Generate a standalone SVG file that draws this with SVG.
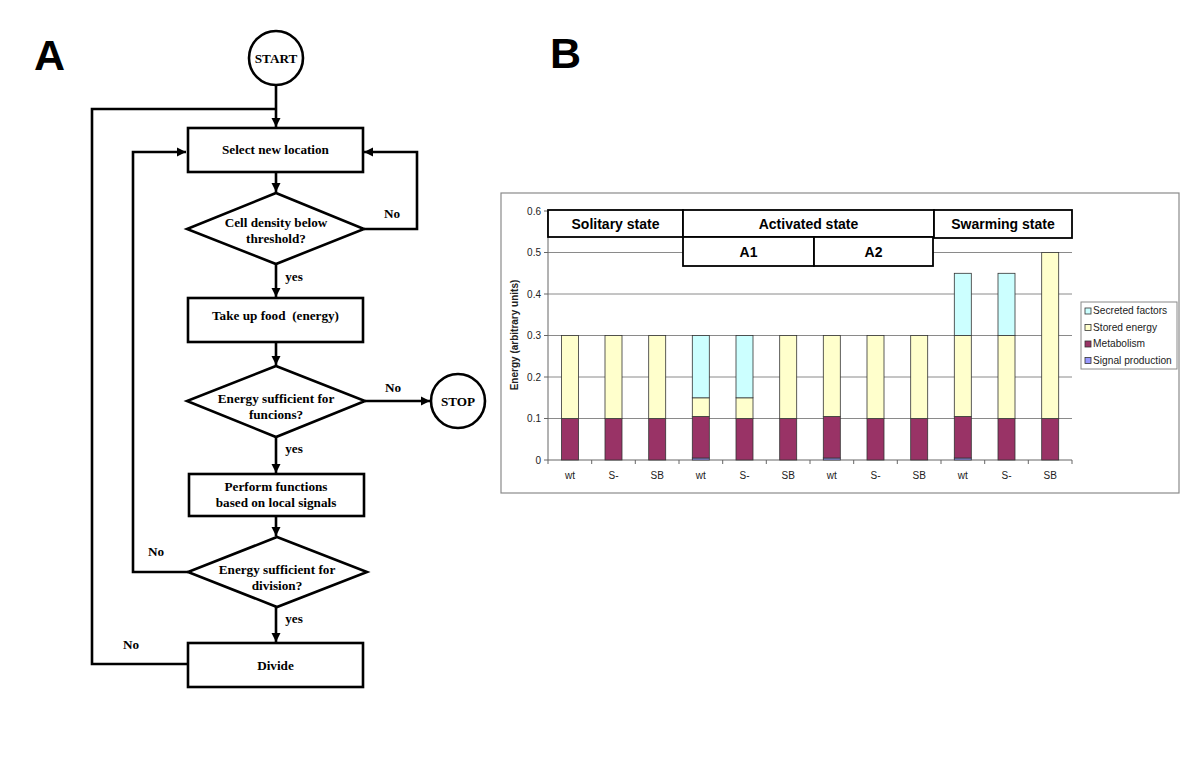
<svg xmlns="http://www.w3.org/2000/svg" width="1200" height="764" viewBox="0 0 1200 764">
<style>
.fc{fill:#fff;stroke:#000;stroke-width:2.6}
.ft{font-family:"Liberation Serif",serif;font-weight:bold;font-size:13.2px;fill:#000;text-anchor:middle}
.con{fill:none;stroke:#000;stroke-width:2.6}
.big{font-family:"Liberation Sans",Arial,sans-serif;font-weight:bold;font-size:43px;fill:#000}
.ax{font-family:"Liberation Sans",Arial,sans-serif;font-size:10px;fill:#222}
.hd{fill:#fff;stroke:#000;stroke-width:1.8}
.ht{font-family:"Liberation Sans",Arial,sans-serif;font-weight:bold;font-size:14px;fill:#000;text-anchor:middle}
.grid{stroke:#8a8a8a;stroke-width:1}
.bar{stroke:#333;stroke-width:0.8}
.met{fill:#993366}.sto{fill:#FFFFCC}.sec{fill:#CCFFFF}.sig{fill:#9999FF}
.lg{font-family:"Liberation Sans",Arial,sans-serif;font-size:10.2px;fill:#222}
</style>
<defs>
<marker id="ah" viewBox="0 0 10 10" refX="10" refY="5" markerWidth="3.6" markerHeight="3.6" orient="auto" markerUnits="strokeWidth">
<path d="M0,0 L10,5 L0,10 z" fill="#000"/>
</marker>
</defs>
<rect width="1200" height="764" fill="#fff"/>
<text class="big" x="34" y="70">A</text>
<text class="big" x="550" y="68">B</text>

<g id="connectors">
<path class="con" d="M276,86 V127" marker-end="url(#ah)"/>
<path class="con" d="M188,664 H92 V109 H276"/>
<path class="con" d="M188,572 H133 V152 H186" marker-end="url(#ah)"/>
<path class="con" d="M364,229 H417 V152 H364" marker-end="url(#ah)"/>
<path class="con" d="M276,172 V192" marker-end="url(#ah)"/>
<path class="con" d="M276,263 V297" marker-end="url(#ah)"/>
<path class="con" d="M276,342 V365" marker-end="url(#ah)"/>
<path class="con" d="M365,401 H430" marker-end="url(#ah)"/>
<path class="con" d="M276,437 V473" marker-end="url(#ah)"/>
<path class="con" d="M276,516 V536" marker-end="url(#ah)"/>
<path class="con" d="M276,607 V642" marker-end="url(#ah)"/>
<text class="ft" x="392" y="218">No</text>
<text class="ft" x="294" y="281">yes</text>
<text class="ft" x="393" y="392">No</text>
<text class="ft" x="294" y="453">yes</text>
<text class="ft" x="156" y="556">No</text>
<text class="ft" x="294" y="623">yes</text>
<text class="ft" x="131" y="649">No</text>
</g>

<g id="start"><circle class="fc" cx="276" cy="58" r="27"/><text class="ft" x="276" y="63">START</text></g>
<g id="select"><rect class="fc" x="188" y="128" width="175" height="44"/><text class="ft" x="275.5" y="154">Select new location</text></g>
<g id="density"><polygon class="fc" points="276,193 364,229 276,264 187,229"/><text class="ft" x="276" y="227">Cell density below</text><text class="ft" x="276" y="243">threshold?</text></g>
<g id="food"><rect class="fc" x="188" y="298" width="175" height="44"/><text class="ft" x="275.5" y="320" xml:space="preserve">Take up food  (energy)</text></g>
<g id="energy1"><polygon class="fc" points="276,366 365,401 276,437 187,401"/><text class="ft" x="276" y="403">Energy sufficient for</text><text class="ft" x="276" y="419">funcions?</text></g>
<g id="stop"><circle class="fc" cx="458" cy="401" r="27"/><text class="ft" x="458" y="406">STOP</text></g>
<g id="perform"><rect class="fc" x="189" y="474" width="175" height="42"/><text class="ft" x="276" y="491">Perform functions</text><text class="ft" x="276" y="507">based on local signals</text></g>
<g id="energy2"><polygon class="fc" points="277,537 367,572 277,607 188,572"/><text class="ft" x="277" y="574">Energy sufficient for</text><text class="ft" x="277" y="590">division?</text></g>
<g id="divide"><rect class="fc" x="188" y="643" width="175" height="44"/><text class="ft" x="275.5" y="670">Divide</text></g>

<g id="chart">
<rect x="501" y="193" width="678" height="300" fill="#fff" stroke="#8a8a8a" stroke-width="1.2"/>
<g>
<line class="grid" x1="548" y1="211" x2="1072" y2="211"/>
<line class="grid" x1="548" y1="252.5" x2="1072" y2="252.5"/>
<line class="grid" x1="548" y1="294" x2="1072" y2="294"/>
<line class="grid" x1="548" y1="335.5" x2="1072" y2="335.5"/>
<line class="grid" x1="548" y1="377" x2="1072" y2="377"/>
<line class="grid" x1="548" y1="418.5" x2="1072" y2="418.5"/>
</g>
<line x1="548" y1="211" x2="548" y2="460" stroke="#666"/>
<line x1="548" y1="460" x2="1072" y2="460" stroke="#666"/>
<g stroke="#666">
<line x1="544" y1="211" x2="548" y2="211"/><line x1="544" y1="252.5" x2="548" y2="252.5"/><line x1="544" y1="294" x2="548" y2="294"/><line x1="544" y1="335.5" x2="548" y2="335.5"/><line x1="544" y1="377" x2="548" y2="377"/><line x1="544" y1="418.5" x2="548" y2="418.5"/><line x1="544" y1="460" x2="548" y2="460"/>
<line x1="548" y1="460" x2="548" y2="464"/><line x1="591.7" y1="460" x2="591.7" y2="464"/><line x1="635.3" y1="460" x2="635.3" y2="464"/><line x1="679" y1="460" x2="679" y2="464"/><line x1="722.7" y1="460" x2="722.7" y2="464"/><line x1="766.3" y1="460" x2="766.3" y2="464"/><line x1="810" y1="460" x2="810" y2="464"/><line x1="853.7" y1="460" x2="853.7" y2="464"/><line x1="897.3" y1="460" x2="897.3" y2="464"/><line x1="941" y1="460" x2="941" y2="464"/><line x1="984.7" y1="460" x2="984.7" y2="464"/><line x1="1028.3" y1="460" x2="1028.3" y2="464"/><line x1="1072" y1="460" x2="1072" y2="464"/>
</g>
<g class="ax" text-anchor="end">
<text x="541" y="214.5">0.6</text><text x="541" y="256">0.5</text><text x="541" y="297.5">0.4</text><text x="541" y="339">0.3</text><text x="541" y="380.5">0.2</text><text x="541" y="422">0.1</text><text x="541" y="463.5">0</text>
</g>
<text class="ax" font-weight="bold" text-anchor="middle" transform="translate(518,335) rotate(-90)">Energy (arbitrary units)</text>
<g class="ax" text-anchor="middle">
<text x="570" y="479">wt</text><text x="613.5" y="479">S-</text><text x="657.2" y="479">SB</text>
<text x="700.8" y="479">wt</text><text x="744.5" y="479">S-</text><text x="788.2" y="479">SB</text>
<text x="831.8" y="479">wt</text><text x="875.5" y="479">S-</text><text x="919.2" y="479">SB</text>
<text x="962.8" y="479">wt</text><text x="1006.5" y="479">S-</text><text x="1050.2" y="479">SB</text>
</g>
<g id="bars">
<rect class="bar met" x="561.5" y="418.5" width="17" height="41.5"/><rect class="bar sto" x="561.5" y="335.5" width="17" height="83"/>
<rect class="bar met" x="605" y="418.5" width="17" height="41.5"/><rect class="bar sto" x="605" y="335.5" width="17" height="83"/>
<rect class="bar met" x="648.7" y="418.5" width="17" height="41.5"/><rect class="bar sto" x="648.7" y="335.5" width="17" height="83"/>
<rect class="bar sig" x="692.3" y="458" width="17" height="2"/><rect class="bar met" x="692.3" y="416.5" width="17" height="41.5"/><rect class="bar sto" x="692.3" y="397.8" width="17" height="18.7"/><rect class="bar sec" x="692.3" y="335.5" width="17" height="62.3"/>
<rect class="bar met" x="736" y="418.5" width="17" height="41.5"/><rect class="bar sto" x="736" y="397.8" width="17" height="20.7"/><rect class="bar sec" x="736" y="335.5" width="17" height="62.3"/>
<rect class="bar met" x="779.7" y="418.5" width="17" height="41.5"/><rect class="bar sto" x="779.7" y="335.5" width="17" height="83"/>
<rect class="bar sig" x="823.3" y="458" width="17" height="2"/><rect class="bar met" x="823.3" y="416.5" width="17" height="41.5"/><rect class="bar sto" x="823.3" y="335.5" width="17" height="81"/>
<rect class="bar met" x="867" y="418.5" width="17" height="41.5"/><rect class="bar sto" x="867" y="335.5" width="17" height="83"/>
<rect class="bar met" x="910.7" y="418.5" width="17" height="41.5"/><rect class="bar sto" x="910.7" y="335.5" width="17" height="83"/>
<rect class="bar sig" x="954.3" y="458" width="17" height="2"/><rect class="bar met" x="954.3" y="416.5" width="17" height="41.5"/><rect class="bar sto" x="954.3" y="335.5" width="17" height="81"/><rect class="bar sec" x="954.3" y="273.3" width="17" height="62.2"/>
<rect class="bar met" x="998" y="418.5" width="17" height="41.5"/><rect class="bar sto" x="998" y="335.5" width="17" height="83"/><rect class="bar sec" x="998" y="273.3" width="17" height="62.2"/>
<rect class="bar met" x="1041.7" y="418.5" width="17" height="41.5"/><rect class="bar sto" x="1041.7" y="252.5" width="17" height="166"/>
</g>
<g id="headers">
<rect class="hd" x="548" y="210" width="135" height="27"/><text class="ht" x="615.5" y="229">Solitary state</text>
<rect class="hd" x="683" y="210" width="251" height="27"/><text class="ht" x="808.5" y="229">Activated state</text>
<rect class="hd" x="934" y="210" width="138" height="28"/><text class="ht" x="1003" y="229">Swarming state</text>
<rect class="hd" x="683" y="237" width="131" height="29"/><text class="ht" x="748.5" y="257">A1</text>
<rect class="hd" x="814" y="237" width="119" height="29"/><text class="ht" x="873.5" y="257">A2</text>
</g>
<g id="legend">
<rect x="1081" y="302" width="96" height="67" fill="#fff" stroke="#8a8a8a"/>
<rect x="1085" y="308" width="6" height="6" class="bar sec"/><text class="lg" x="1093" y="314">Secreted factors</text>
<rect x="1085" y="324.5" width="6" height="6" class="bar sto"/><text class="lg" x="1093" y="330.5">Stored energy</text>
<rect x="1085" y="341" width="6" height="6" class="bar met"/><text class="lg" x="1093" y="347">Metabolism</text>
<rect x="1085" y="357.5" width="6" height="6" class="bar sig"/><text class="lg" x="1093" y="363.5">Signal production</text>
</g>
</g>
</svg>
